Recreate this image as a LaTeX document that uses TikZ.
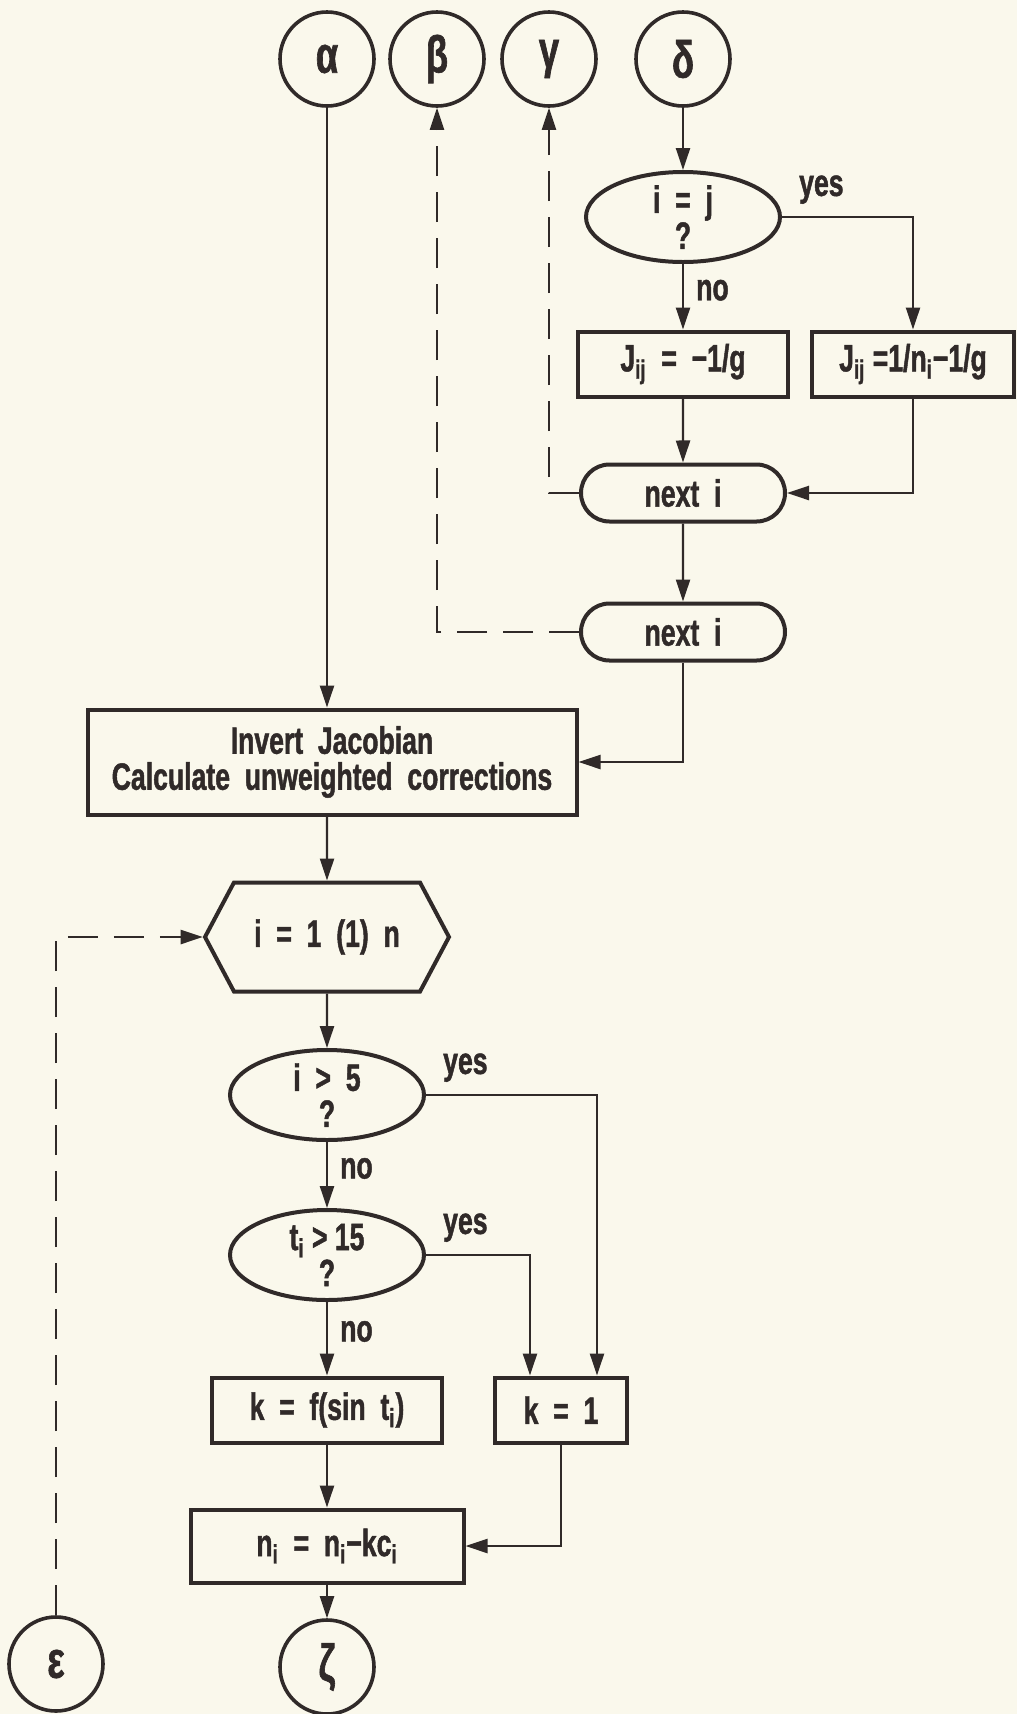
\documentclass[tikz,border=0pt]{standalone}
\usepackage{fontspec}
\setmainfont{Liberation Sans}[FakeStretch=0.7,BoldFeatures={FakeBold=1.2}]
\usepackage{tikz}
\usetikzlibrary{arrows.meta,shapes.geometric,shapes.misc,shapes.symbols}
\definecolor{paper}{RGB}{250,248,236}
\definecolor{ink}{RGB}{48,42,41}

\tikzset{
  box/.style={draw=ink,line width=2pt,rectangle,inner sep=2pt,minimum height=32.5pt},
  decision/.style={draw=ink,line width=2pt,ellipse,inner sep=-4pt,
    minimum width=97pt,minimum height=45pt,align=center},
  loopnext/.style={draw=ink,line width=2pt,rounded rectangle,inner sep=2pt,
    minimum width=106pt,minimum height=28.5pt},
  hexloop/.style={draw=ink,line width=2pt,signal,signal to=west and east,
    signal pointer angle=124,inner sep=2pt,minimum width=122pt,minimum height=54.5pt},
  connector/.style={draw=ink,line width=1.8pt,circle,minimum size=47pt,inner sep=0pt,
    font=\bfseries\fontsize{26}{26}\selectfont},
  flow/.style={draw=ink,line width=1.2pt,-{Triangle[length=11pt,width=7pt]}},
  backflow/.style={flow,dash pattern=on 15pt off 8pt},
  lbl/.style={inner sep=3pt}
}

\begin{document}
\begin{tikzpicture}[x=0.5pt,y=-0.5pt,font=\bfseries\fontsize{19}{18}\selectfont,text=ink]
  \fill[paper] (0,0) rectangle (1017,1714);
  \useasboundingbox (0,0) rectangle (1017,1714);

  % off-page connectors at the top
  \node[connector] (alpha) at (327,59) {α};
  \node[connector] (beta) at (437,59) {β};
  \node[connector] (gamma) at (549,59) {γ};
  \node[connector] (delta) at (683,59) {δ};

  % loop over j
  \node[decision] (ieqj) at (683,217) {i \ = \ j\\?};
  \node[box,minimum width=105pt] (jneg) at (683,364) {J\textsubscript{ij} \ = \ −1/g};
  \node[box,minimum width=101pt] (jdiag) at (913,364) {J\textsubscript{ij} =1/n\textsubscript{i}−1/g};
  \node[loopnext] (nexta) at (683,493) {next \ i};
  \node[loopnext] (nextb) at (683,632) {next \ i};

  \node[box,minimum width=244.5pt,minimum height=52.5pt,align=center] (invert) at (332,762)
    {Invert \ Jacobian\\Calculate \ unweighted \ corrections};

  % correction loop
  \node[hexloop] (iloop) at (327,937) {i \ = \ 1 \ (1) \ n};
  \node[decision] (gtfive) at (327,1095) {i \ > \ 5\\?};
  \node[decision] (tfifteen) at (327,1255) {t\textsubscript{i} > 15\\?};
  \node[box,minimum width=115pt] (kfun) at (327,1410) {k \ = \ f(sin \ t\textsubscript{i})};
  \node[box,minimum width=66pt] (kone) at (561,1410) {k \ = \ 1};
  \node[box,minimum width=136.5pt,minimum height=36.5pt] (nupd) at (327,1546)
    {n\textsubscript{i} \ = \ n\textsubscript{i}−kc\textsubscript{i}};
  \node[connector] (zeta) at (327,1667) {ζ};
  \node[connector] (eps) at (56,1664) {ε};

  \draw[flow] (alpha) -- (alpha |- invert.north);
  \draw[flow] (delta) -- (ieqj);
  \draw[flow] (ieqj) -- (jneg) node[lbl,pos=0.4,right,xshift=3pt] (noa) {no};
  \draw[flow] (ieqj.east) -| (jdiag.north) node[lbl,pos=0,above right,xshift=5pt,yshift=3pt] (yesa) {yes};
  \draw[flow] (jneg) -- (nexta);
  \draw[flow] (jdiag) |- (nexta);
  \draw[backflow] (nexta.west) -| (gamma.south);
  \draw[flow] (nexta) -- (nextb);
  \draw[backflow] (nextb.west) -| (beta.south);
  \draw[flow] (nextb) |- (invert);
  \draw[flow] (iloop |- invert.south) -- (iloop);
  \draw[flow] (iloop) -- (gtfive);
  \draw[flow] (gtfive) -- (tfifteen) node[lbl,pos=0.4,right,xshift=3pt] (nob) {no};
  \draw[flow] (gtfive.east) -| ([xshift=18pt]kone.north) node[lbl,pos=0,above right,xshift=5pt,yshift=3pt] (yesb) {yes};
  \draw[flow] (tfifteen.east) -| ([xshift=-15.5pt]kone.north) node[lbl,pos=0,above right,xshift=5pt,yshift=3pt] (yesc) {yes};
  \draw[flow] (tfifteen) -- (kfun) node[lbl,pos=0.4,right,xshift=3pt] (noc) {no};
  \draw[flow] (kfun) -- (nupd);
  \draw[flow] (kone) |- (nupd);
  \draw[flow] (nupd) -- (zeta);
  \draw[backflow] (eps) |- (iloop.west);
\end{tikzpicture}
\end{document}
